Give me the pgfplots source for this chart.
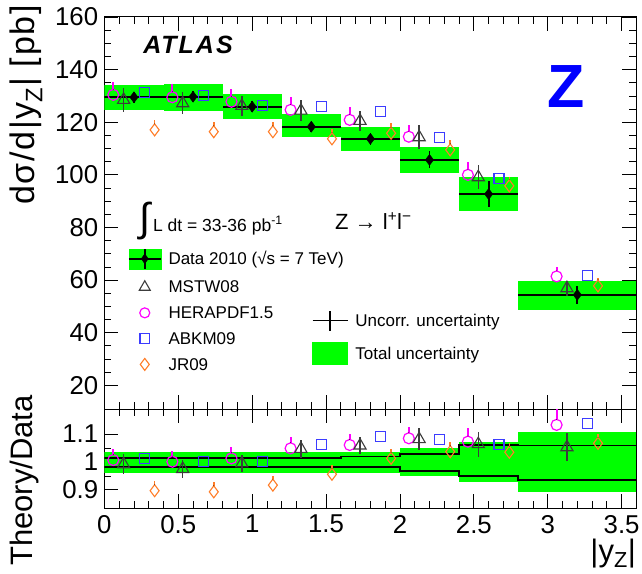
\documentclass[border=0pt]{standalone}
\usepackage{pgfplots}
\pgfplotsset{compat=1.18}
\usepackage{fontspec}
\setmainfont{Liberation Sans}
\newfontfamily\atlasfont[LetterSpace=8]{Liberation Sans}
\newfontfamily\ylabfont[LetterSpace=5]{Liberation Sans}
\definecolor{rgreen}{RGB}{0,255,0}
\definecolor{rmag}{RGB}{255,0,255}
\definecolor{rblue}{RGB}{60,60,255}
\definecolor{rorange}{RGB}{255,125,40}
\definecolor{rgray}{RGB}{60,60,60}
\newcommand\ls{\rule[-4.5bp]{0pt}{17.5bp}}
\pgfplotsset{
  rootaxis/.style={scale only axis, width=532bp, xmin=0, xmax=3.6,
    xtick={0,0.5,...,3.5}, minor x tick num=4,
    major tick length=14bp, minor tick length=7bp,
    axis line style={line width=1bp},
    every tick/.style={black, line width=0.8bp},
    tick label style={font=\fontsize{25.8bp}{30bp}\selectfont},
    yticklabel style={inner sep=0pt, xshift=-6bp},
    xticklabel style={inner sep=0pt, yshift=-7bp},
    /pgf/number format/assume math mode=true},
  cpts/.style={only marks, mark=o, color=rmag, mark size=5.5bp, mark options={line width=1.2bp}},
  cbar/.style={only marks, mark=*, mark size=0.1pt, mark options={draw=none, fill=none},
    error bars/.cd, y dir=plus, y explicit, error mark=none,
    error bar style={line width=2bp, draw=rmag}},
  tpts/.style={only marks, mark=triangle, color=rgray, mark size=7bp, mark options={line width=1.1bp},
    error bars/.cd, y dir=both, y explicit, error mark=none, error bar style={line width=1.5bp, color=rgray}},
  spts/.style={only marks, mark=square, color=rblue, mark size=5bp, mark options={line width=1.1bp}},
  opts/.style={only marks, mark=diamond, color=rorange, mark size=6bp, mark options={line width=1.1bp}},
  obar/.style={only marks, mark=*, mark size=0.1pt, mark options={draw=none, fill=none},
    error bars/.cd, y dir=plus, y explicit, error mark=none,
    error bar style={line width=1.5bp, draw=rorange}},
  legstyle/.style={legend style={draw=none, fill=none, inner sep=0pt, outer sep=0pt,
    column sep=6bp, font=\fontsize{17bp}{20bp}\selectfont, nodes={inner sep=1bp}, anchor=north west},
    legend cell align=left},
  mkimg/.style={legend image code/.code={\draw[mark repeat=2, mark phase=2, ##1] plot coordinates {(0bp,0bp) (16bp,0bp) (32bp,0bp)};}},
}
\begin{document}
\begin{tikzpicture}
\useasboundingbox (0bp,0bp) rectangle (642bp,-574bp);
% ---------------- top panel ----------------
\begin{axis}[rootaxis, legstyle, at={(104.4bp,-17bp)}, anchor=north west, height=392bp,
  ymin=11, ymax=160, ytick={20,40,...,160}, minor y tick num=3, xticklabels={},
  legend style={at={(axis description cs:0.0444,0.4107)}, row sep=9.3bp}]
\addplot[fill=rgreen, draw=none, forget plot] coordinates {(0,124.7) (0.4,124.7) (0.4,134.1) (0,134.1)} -- cycle;
\addplot[fill=rgreen, draw=none, forget plot] coordinates {(0.4,124.4) (0.8,124.4) (0.8,134.5) (0.4,134.5)} -- cycle;
\addplot[fill=rgreen, draw=none, forget plot] coordinates {(0.8,121.4) (1.2,121.4) (1.2,130.8) (0.8,130.8)} -- cycle;
\addplot[fill=rgreen, draw=none, forget plot] coordinates {(1.2,114.2) (1.6,114.2) (1.6,123.0) (1.2,123.0)} -- cycle;
\addplot[fill=rgreen, draw=none, forget plot] coordinates {(1.6,109.2) (2.0,109.2) (2.0,118.3) (1.6,118.3)} -- cycle;
\addplot[fill=rgreen, draw=none, forget plot] coordinates {(2.0,100.6) (2.4,100.6) (2.4,110.7) (2.0,110.7)} -- cycle;
\addplot[fill=rgreen, draw=none, forget plot] coordinates {(2.4,86.3) (2.8,86.3) (2.8,99.0) (2.4,99.0)} -- cycle;
\addplot[fill=rgreen, draw=none, forget plot] coordinates {(2.8,48.7) (3.6,48.7) (3.6,59.5) (2.8,59.5)} -- cycle;
% data
\addplot[forget plot, only marks, mark=diamond*, black, mark size=5.5bp,
  error bars/.cd, x dir=both, x explicit, y dir=both, y explicit, error mark=none,
  error bar style={line width=1.8bp, black}] coordinates {
  (0.2,129.5) +- (0.2,2.0)
  (0.6,129.7) +- (0.2,2.0)
  (1.0,125.9) +- (0.2,2.0)
  (1.4,118.3) +- (0.2,1.9)
  (1.8,113.7) +- (0.2,2.3)
  (2.2,105.7) +- (0.2,3.2)
  (2.6,92.7) +- (0.2,4.8)
  (3.2,54.4) +- (0.4,3.3)
};
% HERAPDF1.5 (markers, then upward bars from the marker top)
\addplot[forget plot, cpts] coordinates {
  (0.06,130.4) (0.46,129.5) (0.86,127.8) (1.26,124.7)
  (1.66,120.9) (2.06,114.5) (2.46,100.0) (3.06,61.4)
};
\addplot[forget plot, cbar] coordinates {
  (0.06,132.5) += (0,2.9)
  (0.46,131.6) += (0,2.9)
  (0.86,129.9) += (0,2.9)
  (1.26,126.8) += (0,2.9)
  (1.66,123.0) += (0,2.9)
  (2.06,116.6) += (0,2.5)
  (2.46,102.1) += (0,2.7)
  (3.06,63.5) += (0,1.5)
};
% MSTW08
\addplot[forget plot, tpts] coordinates {
  (0.13,128.5) +- (0,4.5)
  (0.53,127.2) +- (0,4.2)
  (0.93,126.2) +- (0,3.8)
  (1.33,124.4) +- (0,4.0)
  (1.73,120.5) +- (0,3.7)
  (2.13,114.3) +- (0,4.6)
  (2.53,99.1) +- (0,4.5)
  (3.13,56.9) +- (0,2.8)
};
% ABKM09
\addplot[forget plot, spts] coordinates {
  (0.27,131.4) (0.67,130.0) (1.07,126.3) (1.47,125.9)
  (1.87,124.0) (2.27,114.2) (2.67,98.5) (3.27,61.6)
};
% JR09
\addplot[forget plot, opts] coordinates {
  (0.34,117.1) (0.74,116.4) (1.14,116.4) (1.54,113.7)
  (1.94,115.8) (2.34,109.5) (2.74,95.8) (3.34,57.8)
};
\addplot[forget plot, obar] coordinates {
  (0.34,119.4) += (0,1.5)
  (0.74,118.7) += (0,1.5)
  (1.14,118.7) += (0,1.5)
  (1.54,116.0) += (0,1.5)
  (1.94,118.1) += (0,1.5)
  (2.34,111.8) += (0,1.3)
  (2.74,98.1) += (0,1.0)
  (3.34,60.1) += (0,0.6)
};
\addlegendimage{legend image code/.code={
  \fill[rgreen] (0bp,-10bp) rectangle (32bp,10bp);
  \draw[line width=1.5bp] (0bp,0bp) -- (32bp,0bp) (16bp,-10bp) -- (16bp,10bp);
  \fill (16bp,5bp) -- (19.5bp,0bp) -- (16bp,-5bp) -- (12.5bp,0bp) -- cycle;}}
\addlegendentry{\ls Data 2010 (√s = 7 TeV)}
\addlegendimage{mkimg, only marks, mark=triangle, color=rgray, mark size=6.3bp, mark options={line width=1.1bp}}
\addlegendentry{\ls MSTW08}
\addlegendimage{mkimg, only marks, mark=o, color=rmag, mark size=5bp, mark options={line width=1.2bp}}
\addlegendentry{\ls HERAPDF1.5}
\addlegendimage{mkimg, only marks, mark=square, color=rblue, mark size=4.8bp, mark options={line width=1.1bp}}
\addlegendentry{\ls ABKM09}
\addlegendimage{mkimg, only marks, mark=diamond, color=rorange, mark size=6bp, mark options={line width=1.1bp}}
\addlegendentry{\ls JR09}
\end{axis}
% second legend
\begin{axis}[legstyle, at={(104.4bp,-17bp)}, anchor=north west, scale only axis, width=532bp, height=392bp,
  hide axis, xmin=0, xmax=1, ymin=0, ymax=1,
  legend style={at={(axis description cs:0.390,0.2526)}, row sep=11bp}]
\addlegendimage{legend image code/.code={\draw[line width=1.5bp] (0bp,0bp) -- (35bp,0bp) (17.5bp,-10bp) -- (17.5bp,10bp);}}
\addlegendentry{\ls Uncorr. uncertainty}
\addlegendimage{legend image code/.code={\fill[rgreen] (0bp,-11bp) rectangle (35bp,11bp);}}
\addlegendentry{\ls Total uncertainty}
\end{axis}
% ---------------- ratio panel ----------------
\begin{axis}[rootaxis, at={(104.4bp,-409bp)}, anchor=north west, height=99bp,
  ymin=0.835, ymax=1.19, ytick={0.9,1,1.1}, minor y tick num=1]
\addplot[fill=rgreen, draw=none] coordinates {(0,0.959) (2.0,0.959) (2.0,1.037) (0,1.037)} -- cycle;
\addplot[fill=rgreen, draw=none] coordinates {(2.0,0.950) (2.4,0.950) (2.4,1.049) (2.0,1.049)} -- cycle;
\addplot[fill=rgreen, draw=none] coordinates {(2.4,0.927) (2.8,0.927) (2.8,1.073) (2.4,1.073)} -- cycle;
\addplot[fill=rgreen, draw=none] coordinates {(2.8,0.893) (3.6,0.893) (3.6,1.107) (2.8,1.107)} -- cycle;
\addplot[const plot, black, line width=1.8bp] coordinates {
  (0,1.0155) (1.6,1.020) (2.0,1.028) (2.4,1.061) (2.8,1.059) (3.6,1.059)};
\addplot[const plot, black, line width=1.8bp] coordinates {
  (0,0.983) (1.6,0.981) (2.0,0.968) (2.4,0.950) (2.8,0.935) (3.6,0.935)};
\addplot[cpts] coordinates {
  (0.06,1.007) (0.46,1.001) (0.86,1.013) (1.26,1.049)
  (1.66,1.061) (2.06,1.085) (2.46,1.073) (3.06,1.133)
};
\addplot[cbar] coordinates {
  (0.06,1.027) += (0,0.020)
  (0.46,1.021) += (0,0.020)
  (0.86,1.033) += (0,0.020)
  (1.26,1.069) += (0,0.020)
  (1.66,1.081) += (0,0.020)
  (2.06,1.105) += (0,0.020)
  (2.46,1.093) += (0,0.028)
  (3.06,1.153) += (0,0.038)
};
\addplot[tpts] coordinates {
  (0.13,0.992) +- (0,0.035)
  (0.53,0.975) +- (0,0.033)
  (0.93,0.995) +- (0,0.030)
  (1.33,1.047) +- (0,0.032)
  (1.73,1.059) +- (0,0.031)
  (2.13,1.082) +- (0,0.040)
  (2.53,1.064) +- (0,0.045)
  (3.13,1.053) +- (0,0.050)
};
\addplot[spts] coordinates {
  (0.27,1.013) (0.67,1.001) (1.07,1.001) (1.47,1.064)
  (1.87,1.091) (2.27,1.082) (2.67,1.064) (3.27,1.137)
};
\addplot[opts] coordinates {
  (0.34,0.897) (0.74,0.893) (1.14,0.917) (1.54,0.956)
  (1.94,1.013) (2.34,1.037) (2.74,1.035) (3.34,1.067)
};
\addplot[obar] coordinates {
  (0.34,0.9185) += (0,0.012)
  (0.74,0.9145) += (0,0.012)
  (1.14,0.9385) += (0,0.012)
  (1.54,0.9775) += (0,0.012)
  (1.94,1.0345) += (0,0.012)
  (2.34,1.0585) += (0,0.012)
  (2.74,1.0565) += (0,0.012)
  (3.34,1.0885) += (0,0.012)
};
\end{axis}
% ---------------- texts ----------------
\node[rotate=90, anchor=base east, inner sep=0pt, font=\ylabfont\fontsize{34bp}{38bp}\selectfont] at (34.5bp,-5bp) {dσ/d|y\textsubscript{Z}| [pb]};
\node[rotate=90, anchor=base east, inner sep=0pt, font=\fontsize{31bp}{36bp}\selectfont] at (32bp,-395bp) {Theory/Data};
\node[anchor=base east, inner sep=0pt, font=\fontsize{31bp}{36bp}\selectfont] at (636bp,-561bp) {|y\textsubscript{Z}|};
\node[inner sep=0pt, font=\atlasfont\fontsize{25bp}{28bp}\selectfont\bfseries\itshape] at (188bp,-45bp) {ATLAS};
\node[inner sep=0pt, text=blue, font=\fontsize{61bp}{70bp}\selectfont\bfseries] at (566bp,-87bp) {Z};
\node[anchor=base west, inner sep=0pt, font=\fontsize{17.5bp}{20bp}\selectfont] at (139bp,-231bp) {{\fontsize{40bp}{40bp}\selectfont ∫}\,L dt = 33-36 pb\textsuperscript{-1}};
\node[anchor=base west, inner sep=0pt, font=\fontsize{22bp}{26bp}\selectfont] at (335bp,-229bp) {Z → l\textsuperscript{+}l\textsuperscript{−}};
\end{tikzpicture}
\end{document}
